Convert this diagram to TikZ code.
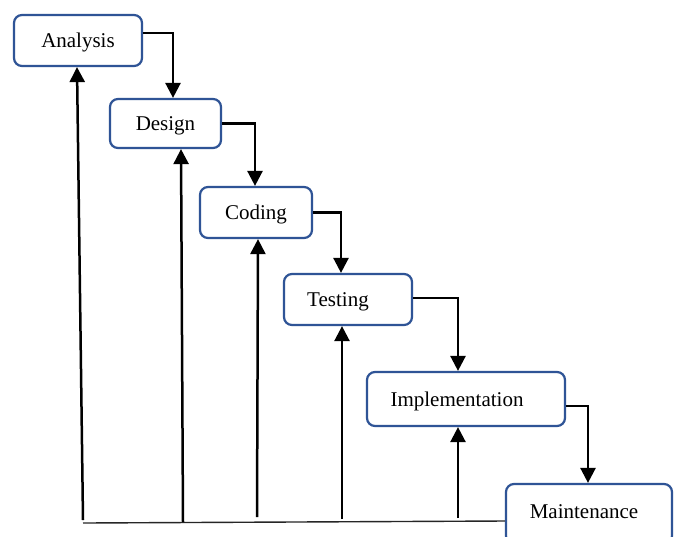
\documentclass[tikz,border=0pt]{standalone}
\usepackage{fontspec}
\setmainfont{Liberation Serif}
\usetikzlibrary{arrows.meta}
\definecolor{boxblue}{HTML}{2F5496}
\begin{document}
\begin{tikzpicture}[x=1pt,y=-1pt,
  stage/.style={draw=boxblue, line width=2.2pt, rounded corners=8pt, fill=white, inner sep=0pt},
  caption/.style={font=\fontsize{21}{24}\selectfont, inner sep=0pt, text height=14pt, text depth=0pt},
  flow/.style={line width=2.5pt, -{Triangle[width=15pt,length=15pt]}},
  base/.style={line width=1.4pt, draw=black!85}]
  \clip (0,0) rectangle (676,536);
  \fill[white] (0,0) rectangle (676,536);

  % stages of the waterfall
  \node[stage, minimum width=128pt, minimum height=51pt,
        label={[caption, name=At]center:Analysis}] (A) at (78,40.5) {};
  \node[stage, minimum width=111pt, minimum height=49pt,
        label={[caption, name=Dt]center:Design}] (D) at (165.5,123.5) {};
  \node[stage, minimum width=112pt, minimum height=51pt,
        label={[caption, name=Ct]center:Coding}] (C) at (256,212.5) {};
  \node[stage, minimum width=128pt, minimum height=51pt,
        label={[caption, name=Tt, xshift=-10pt]center:Testing}] (T) at (348,299.5) {};
  \node[stage, minimum width=198pt, minimum height=54pt,
        label={[caption, name=It, xshift=-9pt]center:Implementation}] (I) at (466,399) {};
  % the last stage runs past the lower edge of the page
  \node[stage, minimum width=166pt, minimum height=60pt,
        label={[caption, name=Mt, xshift=-5pt, yshift=3pt]center:Maintenance}] (M) at (589,514) {};

  % forward flow between stages
  \draw[flow] ([yshift=7.5pt]A.east) -| ([xshift=7.5pt]D.north);
  \draw[flow] (D.east) -| ([xshift=-1pt]C.north);
  \draw[flow] (C.east) -| ([xshift=-7pt]T.north);
  \draw[flow] ([yshift=1.5pt]T.east) -| ([xshift=-8pt]I.north);
  \draw[flow] ([yshift=-7pt]I.east) -| ([xshift=-1pt]M.north);

  % feedback line along the bottom
  \coordinate (fA) at (83,520);
  \coordinate (fD) at (183,522);
  \coordinate (fC) at (257,517);
  \coordinate (fT) at (342,519);
  \coordinate (fI) at (458,518);
  \coordinate (baseL) at (83,523);
  \draw[base] (baseL) -- ([yshift=-7pt]M.west);

  \draw[flow] (fA) -- ([xshift=-1pt]A.south);
  \draw[flow] (fD) -- ([xshift=15.5pt]D.south);
  \draw[flow] (fC) -- ([xshift=2pt]C.south);
  \draw[flow] (fT) -- ([xshift=-6pt]T.south);
  \draw[flow] (fI) -- ([xshift=-8pt]I.south);
\end{tikzpicture}
\end{document}
